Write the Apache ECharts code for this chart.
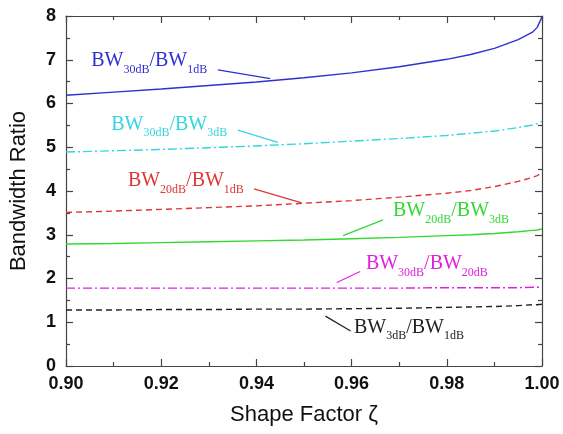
<!DOCTYPE html>
<html>
<head>
<meta charset="utf-8">
<script src="https://cdn.jsdelivr.net/npm/echarts@6/dist/echarts.min.js"></script>
<style>
  html, body { margin: 0; padding: 0; background: #fff; }
  #main { width: 563px; height: 434px; }
</style>
</head>
<body>
<div id="main"></div>
<script>
// shape factor samples (x axis)
var zeta = [0.90, 0.91, 0.92, 0.93, 0.94, 0.95, 0.96, 0.97, 0.98, 0.985, 0.99, 0.995, 0.998, 0.999, 1.0];

// bandwidth ratios
var bw30_1  = [6.19, 6.26, 6.33, 6.41, 6.49, 6.59, 6.70, 6.84, 7.01, 7.12, 7.26, 7.46, 7.63, 7.74, 7.98];
var bw30_3  = [4.89, 4.92, 4.95, 4.99, 5.03, 5.08, 5.14, 5.20, 5.27, 5.32, 5.37, 5.45, 5.51, 5.54, 5.59];
var bw20_1  = [3.51, 3.54, 3.58, 3.62, 3.66, 3.72, 3.78, 3.86, 3.95, 4.01, 4.10, 4.22, 4.31, 4.35, 4.42];
var bw20_3  = [2.79, 2.80, 2.82, 2.84, 2.86, 2.88, 2.91, 2.94, 2.98, 3.00, 3.03, 3.07, 3.10, 3.11, 3.13];
var bw30_20 = [1.78, 1.78, 1.78, 1.78, 1.78, 1.78, 1.78, 1.78, 1.79, 1.79, 1.79, 1.79, 1.80, 1.80, 1.80];
var bw3_1   = [1.28, 1.28, 1.29, 1.29, 1.30, 1.30, 1.31, 1.32, 1.34, 1.35, 1.36, 1.38, 1.40, 1.40, 1.41];

// label parts: [top ratio dB, bottom ratio dB]
var labelParts = [["30dB", "1dB"], ["30dB", "3dB"], ["20dB", "1dB"], ["20dB", "3dB"], ["30dB", "20dB"], ["3dB", "1dB"]];
// text anchor (left, baseline) and leader line, in data units
var labelPos = [[0.9053, 6.71], [0.9095, 5.25], [0.9130, 3.96], [0.9687, 3.28], [0.9630, 2.07], [0.9605, 0.61]];
var leaderFrom = [[0.9319, 6.77], [0.9361, 5.39], [0.9395, 4.05], [0.9666, 3.34], [0.9618, 2.16], [0.9545, 1.14]];
var leaderTo = [[0.9429, 6.57], [0.9445, 5.11], [0.9495, 3.73], [0.9582, 2.98], [0.9569, 1.91], [0.9598, 0.80]];

var colors = ["#3030d0", "#33d6e0", "#e03535", "#33d833", "#e020e0", "#222222"];
var dashes = ["solid", [9, 3, 2, 3], [6, 4], "solid", [9, 3, 2, 3], [6, 4]];
var allSeries = [bw30_1, bw30_3, bw20_1, bw20_3, bw30_20, bw3_1];

function pairs(ys) {
  return zeta.map(function (x, i) { return [x, ys[i]]; });
}

var chart = echarts.init(document.getElementById("main"));

var axisLineStyle = { color: "#444", width: 1.2 };
var labelFont = { fontFamily: "Liberation Sans", fontWeight: "bold", fontSize: 18, color: "#111" };
var nameFont = { fontFamily: "Liberation Sans", fontSize: 22, color: "#111" };

function xAx(pos, showLabel) {
  return {
    type: "value", position: pos, min: 0.9, max: 1.0, interval: 0.02,
    axisLine: { show: true, onZero: false, lineStyle: axisLineStyle },
    axisTick: { show: true, inside: true, length: 7, lineStyle: axisLineStyle },
    minorTick: { show: true, splitNumber: 2, length: 4, lineStyle: axisLineStyle },
    splitLine: { show: false },
    axisLabel: Object.assign({ show: showLabel, margin: 9, formatter: function (v) { return v.toFixed(2); } }, labelFont),
    name: showLabel ? "Shape Factor ζ" : "",
    nameLocation: "middle", nameGap: 38, nameTextStyle: nameFont
  };
}
function yAx(pos, showLabel) {
  return {
    type: "value", position: pos, min: 0, max: 8, interval: 1,
    axisLine: { show: true, onZero: false, lineStyle: axisLineStyle },
    axisTick: { show: true, inside: true, length: 7, lineStyle: axisLineStyle },
    minorTick: { show: true, splitNumber: 2, length: 4, lineStyle: axisLineStyle },
    splitLine: { show: false },
    axisLabel: Object.assign({ show: showLabel, margin: 10 }, labelFont),
    name: showLabel ? "Bandwidth Ratio" : "",
    nameLocation: "middle", nameGap: 36, nameTextStyle: nameFont
  };
}

chart.setOption({
  animation: false,
  grid: { left: 66, right: 21, top: 16, bottom: 68 },
  xAxis: [xAx("bottom", true), xAx("top", false)],
  yAxis: [yAx("left", true), yAx("right", false)],
  series: allSeries.map(function (ys, i) {
    return {
      type: "line", data: pairs(ys), showSymbol: false, smooth: false,
      lineStyle: { color: colors[i], width: 1.4, type: dashes[i] }
    };
  })
});

// labels with subscripts + leader lines, placed through the axes
var graphics = [];
labelParts.forEach(function (p, i) {
  var c = colors[i];
  var at = chart.convertToPixel({ gridIndex: 0 }, labelPos[i]);
  var a = chart.convertToPixel({ gridIndex: 0 }, leaderFrom[i]);
  var b = chart.convertToPixel({ gridIndex: 0 }, leaderTo[i]);
  graphics.push({
    type: "text", x: at[0], y: at[1] - 17,
    style: {
      text: "{m|BW}{s|" + p[0] + "}{m|/BW}{s|" + p[1] + "}",
      verticalAlign: "top", align: "left",
      rich: {
        m: { fontFamily: "Liberation Serif", fontSize: 20, lineHeight: 20, padding: [0, 0, 5, 0], verticalAlign: "bottom", fill: c, color: c },
        s: { fontFamily: "Liberation Serif", fontSize: 12, lineHeight: 12, verticalAlign: "bottom", fill: c, color: c }
      }
    }
  });
  graphics.push({
    type: "line",
    shape: { x1: a[0], y1: a[1], x2: b[0], y2: b[1] },
    style: { stroke: c, lineWidth: 1.2 }
  });
});
chart.setOption({ graphic: graphics });
</script>
</body>
</html>
